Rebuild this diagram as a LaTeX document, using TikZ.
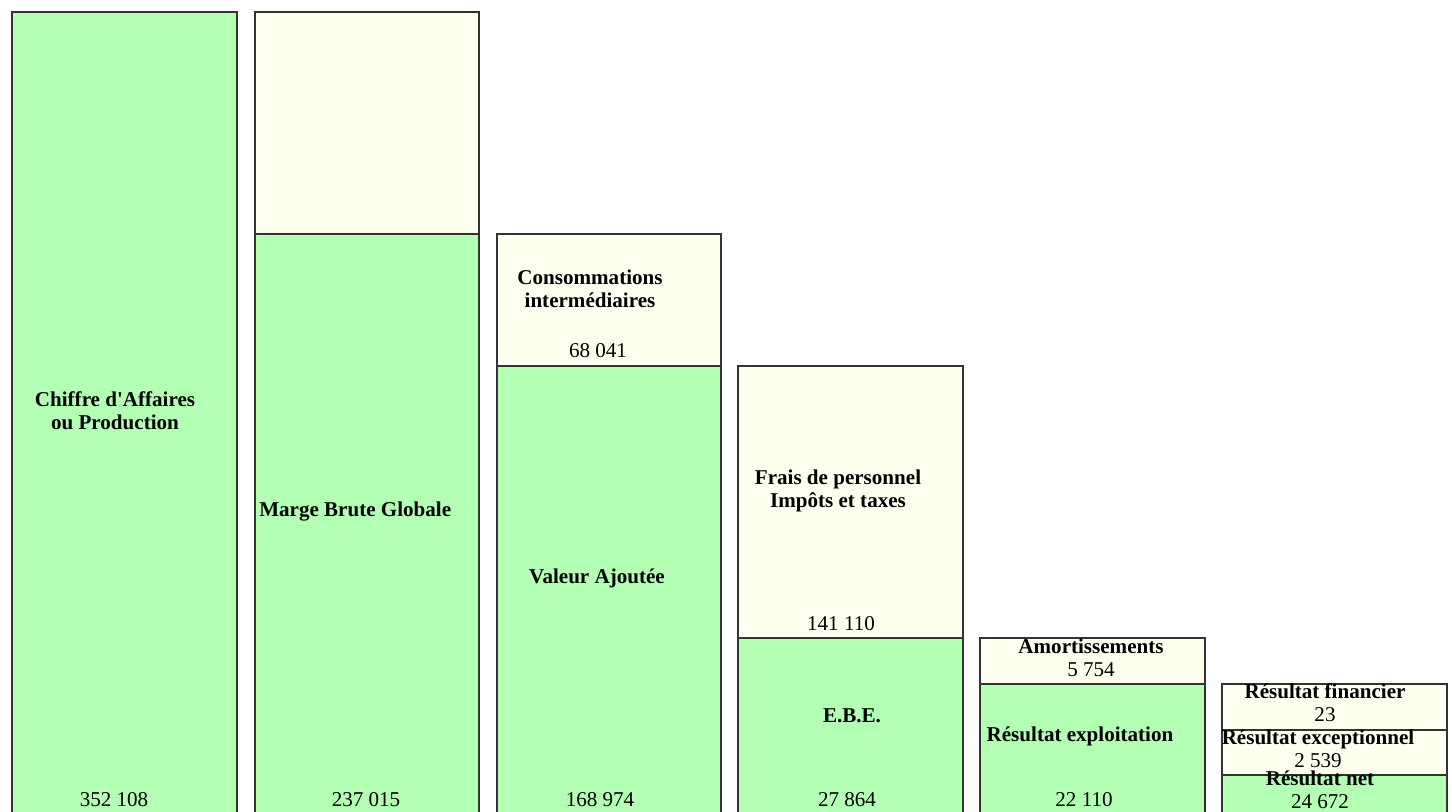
\documentclass[tikz,border=0pt]{standalone}
\usepackage{fontspec}
\setmainfont{Liberation Serif}
\usepackage{tikz}

\definecolor{vert}{RGB}{179,255,179}
\definecolor{creme}{RGB}{255,255,240}

\tikzset{
  barvert/.style={draw=black!80,line width=0.8pt,fill=vert},
  barcreme/.style={draw=black!80,line width=0.8pt,fill=creme},
  libelle/.style={font=\fontsize{15.8}{17}\selectfont\bfseries,align=center,inner sep=0pt},
  valeur/.style={font=\fontsize{15.8}{17}\selectfont,inner sep=0pt}
}

\begin{document}
\begin{tikzpicture}[x=0.75pt,y=-0.75pt]
\clip (0,0) rectangle (1452,812);
% CA
\draw[barvert] (12,12) rectangle (237,820);
\node[libelle] (ca) at (115,411) {Chiffre d\textquotesingle Affaires\\ou Production};
\node[valeur] (vca) at (114,800) {352 108};
% marge
\draw[barcreme] (255,12) rectangle (479,234);
\draw[barvert] (255,234) rectangle (479,820);
\node[libelle,anchor=west] (mbg) at (259,512) {Marge Brute Globale};
\node[valeur] (vmbg) at (366,800) {237 015};
% VA
\draw[barcreme] (497,234) rectangle (721,366);
\node[libelle] (ci) at (590,289) {Consommations\\intermédiaires};
\node[valeur] (vci) at (598,351) {68 041};
\draw[barvert] (497,366) rectangle (721,820);
\node[libelle] (va) at (597,578) {Valeur Ajoutée};
\node[valeur] (vva) at (600,800) {168 974};
% EBE
\draw[barcreme] (738,366) rectangle (963,638);
\node[libelle] (fp) at (838,491) {Frais de personnel\\Impôts et taxes};
\node[valeur] (vfp) at (841,624) {141 110};
\draw[barvert] (738,638) rectangle (963,820);
\node[libelle] (ebe) at (852,716) {E.B.E.};
\node[valeur] (vebe) at (847,800) {27 864};
% exploitation
\draw[barcreme] (980,638) rectangle (1205,684);
\node[libelle] (am) at (1091,658) {Amortissements\\\mdseries 5 754};
\draw[barvert] (980,684) rectangle (1205,820);
\node[libelle] (rex) at (1080,736) {Résultat exploitation};
\node[valeur] (vrex) at (1084,800) {22 110};
% net
\draw[barcreme] (1222,684) rectangle (1447,730);
\node[libelle] (rf) at (1325,703) {Résultat financier\\\mdseries 23};
\draw[barcreme] (1222,730) rectangle (1447,775);
\node[libelle] (rexc) at (1318,749) {Résultat exceptionnel\\\mdseries 2 539};
\draw[barvert] (1222,775) rectangle (1447,820);
\node[libelle] (rn) at (1320,790) {Résultat net\\\mdseries 24 672};
\end{tikzpicture}
\end{document}
